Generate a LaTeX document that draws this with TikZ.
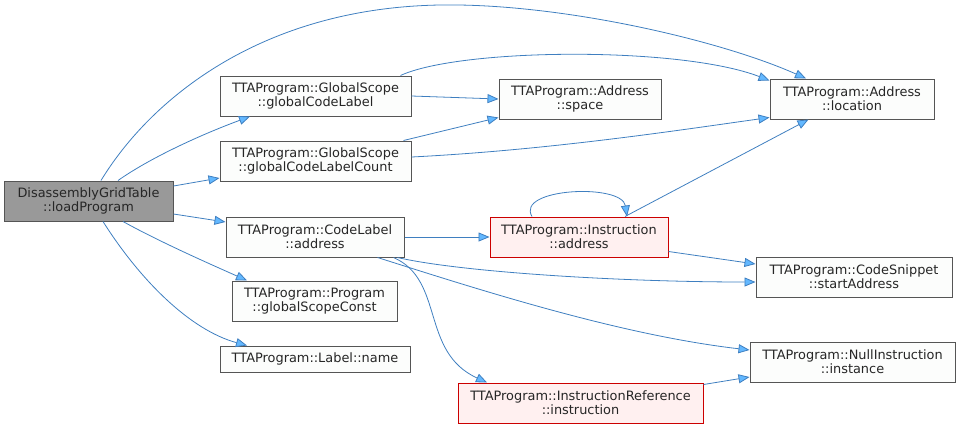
\documentclass[tikz,border=0pt]{standalone}
\usepackage{fontspec}
\setmainfont{DejaVu Sans}
\usetikzlibrary{arrows.meta}
\definecolor{edgecol}{HTML}{3F7FC0}
\definecolor{headcol}{HTML}{63B8FF}
\definecolor{boxborder}{HTML}{555555}
\definecolor{boxfill}{HTML}{FCFDFC}
\definecolor{mainfill}{HTML}{999999}
\definecolor{redborder}{HTML}{CC0000}
\definecolor{redfill}{HTML}{FFF0F0}
\tikzset{
  fn/.style={draw=boxborder, fill=boxfill, line width=1pt, rectangle, inner sep=0pt,
    align=center, font=\fontsize{12.9}{14}\selectfont, text=black!85},
  mainfn/.style={fn, fill=mainfill},
  redfn/.style={fn, draw=redborder, fill=redfill},
  call/.style={draw=edgecol, line width=0.8pt,
    -{Triangle[length=11pt,width=9pt,fill=headcol]}},
}
\begin{document}
\begin{tikzpicture}[x=1pt,y=-1pt]
\useasboundingbox (0,0) rectangle (960,429);

\node[mainfn, minimum width=169pt, minimum height=40pt] (dgt) at (88.5,201) {DisassemblyGridTable\\::loadProgram};
\node[fn, minimum width=191pt, minimum height=40pt] (gcl) at (315.5,96) {TTAProgram::GlobalScope\\::globalCodeLabel};
\node[fn, minimum width=191pt, minimum height=40pt] (gclc) at (315.5,161) {TTAProgram::GlobalScope\\::globalCodeLabelCount};
\node[fn, minimum width=162pt, minimum height=40pt] (space) at (580,99) {TTAProgram::Address\\::space};
\node[fn, minimum width=164pt, minimum height=40pt] (loc) at (852,99) {TTAProgram::Address\\::location};
\node[fn, minimum width=178pt, minimum height=40pt] (cla) at (315,237) {TTAProgram::CodeLabel\\::address};
\node[redfn, minimum width=178pt, minimum height=40pt] (ia) at (579,237) {TTAProgram::Instruction\\::address};
\node[fn, minimum width=196pt, minimum height=40pt] (css) at (854,277) {TTAProgram::CodeSnippet\\::startAddress};
\node[fn, minimum width=165pt, minimum height=40pt] (pgsc) at (314.5,301) {TTAProgram::Program\\::globalScopeConst};
\node[fn, minimum width=190pt, minimum height=26pt] (lname) at (315,359) {TTAProgram::Label::name};
\node[fn, minimum width=205pt, minimum height=40pt] (ni) at (852.5,362) {TTAProgram::NullInstruction\\::instance};
\node[redfn, minimum width=245pt, minimum height=40pt] (irin) at (580.5,403) {TTAProgram::InstructionReference\\::instruction};

% from loadProgram
\draw[call] ([xshift=12.5pt]dgt.north) .. controls (150,100) and (260,8) .. (440,5)
  .. controls (560,3) and (720,40) .. ([xshift=-46pt]loc.north);
\draw[call] ([xshift=29.5pt]dgt.north) .. controls (150,158) and (200,135) .. ([xshift=-65.5pt]gcl.south);
\draw[call] ([yshift=15pt]dgt.east) -- ([yshift=-17pt]gclc.west);
\draw[call] ([yshift=-13pt]dgt.east) -- ([yshift=15pt]cla.west);
\draw[call] ([xshift=34.5pt]dgt.south) .. controls (160,242) and (210,264) .. ([xshift=-67.5pt]pgsc.north);
\draw[call] ([xshift=14.5pt]dgt.south) .. controls (140,280) and (190,330) .. ([xshift=-68pt]lname.north);

% from globalCodeLabel
\draw[call] (gcl.east) -- (space.west);
\draw[call] ([xshift=-11pt]gcl.north east) .. controls (460,48) and (680,46) .. ([yshift=-2pt]loc.north west);

% from globalCodeLabelCount
\draw[call] ([xshift=-8pt]gclc.north east) -- ([yshift=2pt]space.south west);
\draw[call] ([yshift=4pt]gclc.east) .. controls (550,150) and (680,130) .. ([yshift=2pt]loc.south west);

% from CodeLabel::address
\draw[call] (cla.east) -- (ia.west);
\draw[call] ([xshift=-7pt]cla.south east) .. controls (460,272) and (620,282) .. ([yshift=-5pt]css.west);
\draw[call] ([xshift=-27pt]cla.south east) .. controls (480,290) and (620,335) .. ([yshift=12pt]ni.west);
\draw[call] ([xshift=-11pt]cla.south east) .. controls (445,280) and (420,352) .. ([xshift=-93.5pt]irin.north);

% from Instruction::address
\draw[call] ([xshift=-47pt]ia.north) .. controls (515,188) and (622,183) .. ([xshift=48pt]ia.north);
\draw[call] ([xshift=46pt]ia.north) -- ([xshift=39pt]loc.south west);
\draw[call] ([yshift=6pt]ia.south east) -- ([yshift=13pt]css.west);

% from InstructionReference::instruction
\draw[call] ([yshift=-2pt]irin.north east) -- ([yshift=-15pt]ni.west);
\end{tikzpicture}
\end{document}
